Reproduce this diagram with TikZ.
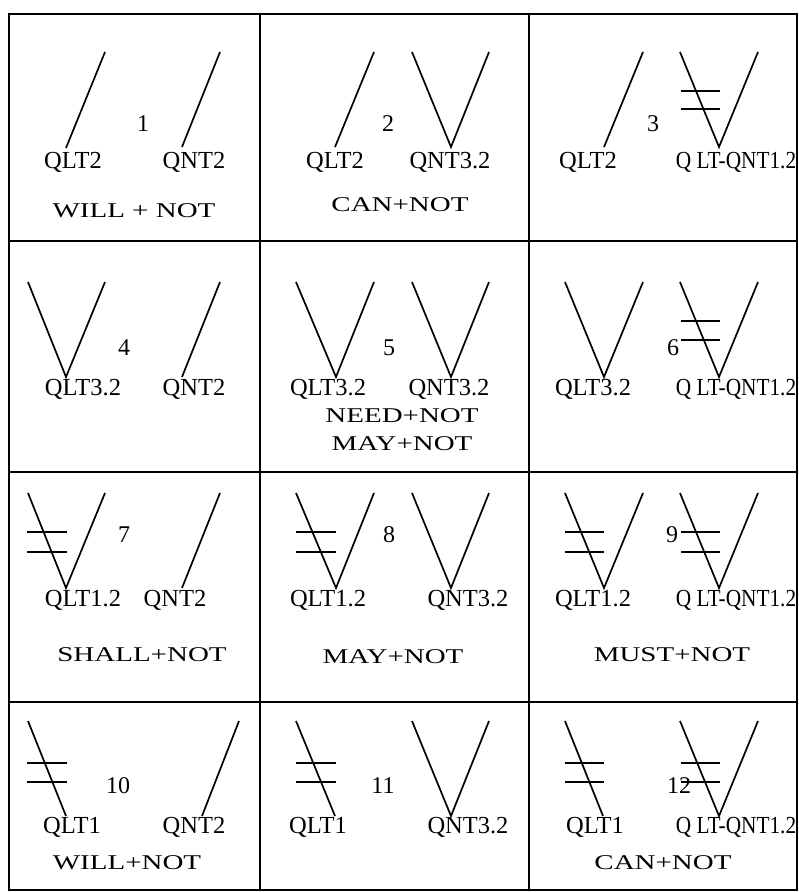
\documentclass[tikz,border=0pt]{standalone}
\usepackage{fontspec}
\usepackage{graphicx}
\setmainfont{Liberation Serif}
\newfontfamily\notefont[FakeStretch=1.38]{Liberation Serif}
\usetikzlibrary{positioning}

\begin{document}
\begin{tikzpicture}[
    x=1pt, y=-1pt,
    grid/.style={line width=2.3pt},
    stroke/.style={line width=1.7pt},
    qlabel/.style={inner sep=0pt, anchor=base, font=\fontsize{24.5}{26}\selectfont},
    qnum/.style={inner sep=0pt, anchor=base, font=\fontsize{24}{26}\selectfont},
    note/.style={inner sep=0pt, anchor=base, font=\notefont\fontsize{21}{24}\selectfont}
]
    \useasboundingbox (0,0) rectangle (799,892);

    % Table
    \draw[grid] (9,14) rectangle (797,890);
    \draw[grid] (260,14) -- (260,890);
    \draw[grid] (529,14) -- (529,890);
    \draw[grid] (9,241) -- (797,241);
    \draw[grid] (9,472) -- (797,472);
    \draw[grid] (9,702) -- (797,702);

    % Row 1
    \draw[stroke] (105,52) -- (66,148);
    \draw[stroke] (220,52) -- (182,147);
    \node[qnum] (n1) at (143,131) {1};
    \node[qlabel] (c1l) at (73,168) {QLT2};
    \node[qlabel] (c1r) at (194,168) {QNT2};
    \node[note] (c1t) at (134,217) {WILL + NOT};

    \draw[stroke] (374,52) -- (335,147);
    \draw[stroke] (412,52) -- (451,147) -- (489,52);
    \node[qnum] (n2) at (388,131) {2};
    \node[qlabel] (c2l) at (335,168) {QLT2};
    \node[qlabel] (c2r) at (450,168) {QNT3.2};
    \node[note] (c2t) at (400,211) {CAN+NOT};

    \draw[stroke] (643,52) -- (604,147);
    \draw[stroke] (680,52) -- (719,147) -- (758,52);
    \draw[stroke] (681,91) -- (720,91) (681,109) -- (720,109);
    \node[qnum] (n3) at (653,131) {3};
    \node[qlabel] (c3l) at (588,168) {QLT2};
    \node[qlabel] (c3r) at (736,168) {\scalebox{0.87}[1]{Q LT-QNT1.2}};

    % Row 2
    \draw[stroke] (28,282) -- (66,377) -- (105,282);
    \draw[stroke] (220,282) -- (182,377);
    \node[qnum] (n4) at (124,355) {4};
    \node[qlabel] (c4l) at (83,395) {QLT3.2};
    \node[qlabel] (c4r) at (194,395) {QNT2};

    \draw[stroke] (296,282) -- (336,377) -- (374,282);
    \draw[stroke] (412,282) -- (451,377) -- (489,282);
    \node[qnum] (n5) at (389,355) {5};
    \node[qlabel] (c5l) at (328,395) {QLT3.2};
    \node[qlabel] (c5r) at (449,395) {QNT3.2};
    \node[note] (c5t) at (402,422) {NEED+NOT};
    \node[note] (c5u) at (402,450) {MAY+NOT};

    \draw[stroke] (565,282) -- (604,377) -- (643,282);
    \draw[stroke] (680,282) -- (719,377) -- (758,282);
    \draw[stroke] (681,321) -- (720,321) (681,340) -- (720,340);
    \node[qnum] (n6) at (673,355) {6};
    \node[qlabel] (c6l) at (593,395) {QLT3.2};
    \node[qlabel] (c6r) at (736,395) {\scalebox{0.87}[1]{Q LT-QNT1.2}};

    % Row 3
    \draw[stroke] (28,493) -- (66,588) -- (105,493);
    \draw[stroke] (27,532) -- (67,532) (27,552) -- (67,552);
    \draw[stroke] (220,493) -- (182,588);
    \node[qnum] (n7) at (124,542) {7};
    \node[qlabel] (c7l) at (83,606) {QLT1.2};
    \node[qlabel] (c7r) at (175,606) {QNT2};
    \node[note] (c7t) at (142,661) {SHALL+NOT};

    \draw[stroke] (296,493) -- (336,588) -- (374,493);
    \draw[stroke] (296,532) -- (336,532) (296,552) -- (336,552);
    \draw[stroke] (412,493) -- (451,588) -- (489,493);
    \node[qnum] (n8) at (389,542) {8};
    \node[qlabel] (c8l) at (328,606) {QLT1.2};
    \node[qlabel] (c8r) at (468,606) {QNT3.2};
    \node[note] (c8t) at (393,663) {MAY+NOT};

    \draw[stroke] (565,493) -- (604,588) -- (643,493);
    \draw[stroke] (565,532) -- (604,532) (565,552) -- (604,552);
    \draw[stroke] (680,493) -- (719,588) -- (758,493);
    \draw[stroke] (681,532) -- (720,532) (681,552) -- (720,552);
    \node[qnum] (n9) at (672,542) {9};
    \node[qlabel] (c9l) at (593,606) {QLT1.2};
    \node[qlabel] (c9r) at (736,606) {\scalebox{0.87}[1]{Q LT-QNT1.2}};
    \node[note] (c9t) at (672,661) {MUST+NOT};

    % Row 4
    \draw[stroke] (28,721) -- (66,816);
    \draw[stroke] (27,763) -- (67,763) (27,782) -- (67,782);
    \draw[stroke] (239,721) -- (202,816);
    \node[qnum] (n10) at (118,793) {10};
    \node[qlabel] (c10l) at (72,833) {QLT1};
    \node[qlabel] (c10r) at (194,833) {QNT2};
    \node[note] (c10t) at (127,869) {WILL+NOT};

    \draw[stroke] (296,721) -- (335,816);
    \draw[stroke] (296,763) -- (336,763) (296,782) -- (336,782);
    \draw[stroke] (412,721) -- (451,816) -- (489,721);
    \node[qnum] (n11) at (383,793) {11};
    \node[qlabel] (c11l) at (318,833) {QLT1};
    \node[qlabel] (c11r) at (468,833) {QNT3.2};

    \draw[stroke] (565,721) -- (603,816);
    \draw[stroke] (565,763) -- (604,763) (565,782) -- (604,782);
    \draw[stroke] (680,721) -- (719,816) -- (758,721);
    \draw[stroke] (681,763) -- (720,763) (681,782) -- (720,782);
    \node[qnum] (n12) at (679,793) {12};
    \node[qlabel] (c12l) at (595,833) {QLT1};
    \node[qlabel] (c12r) at (736,833) {\scalebox{0.87}[1]{Q LT-QNT1.2}};
    \node[note] (c12t) at (663,869) {CAN+NOT};
\end{tikzpicture}
\end{document}
